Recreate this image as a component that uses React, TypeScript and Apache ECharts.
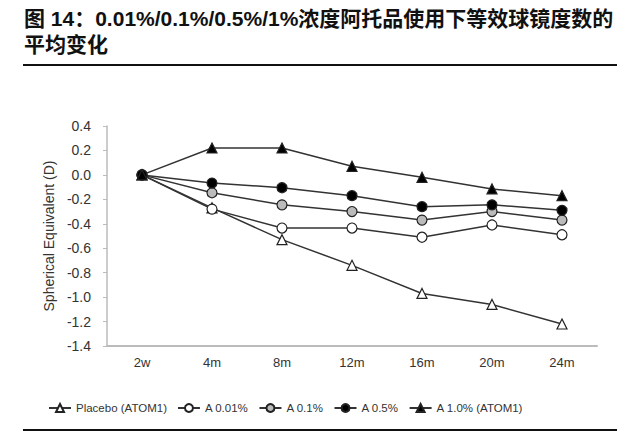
import React, { useEffect, useRef } from "react";
import * as echarts from "echarts";

const categories = ["2w", "4m", "8m", "12m", "16m", "20m", "24m"];
const placebo = [0, -0.27, -0.53, -0.74, -0.97, -1.06, -1.22];
const a001 = [0, -0.28, -0.435, -0.435, -0.51, -0.41, -0.49];
const a01 = [0, -0.146, -0.245, -0.3, -0.37, -0.3, -0.37];
const a05 = [0, -0.067, -0.105, -0.17, -0.26, -0.245, -0.29];
const a10 = [0, 0.22, 0.22, 0.07, -0.02, -0.115, -0.17];
const seriesNames = ["Placebo (ATOM1)", "A 0.01%", "A 0.1%", "A 0.5%", "A 1.0% (ATOM1)"];
const titleLines = ["图 14：0.01%/0.1%/0.5%/1%浓度阿托品使用下等效球镜度数的", "平均变化"];
const yAxisName = "Spherical Equivalent (D)";

const FONT = "'Liberation Sans', Arial, sans-serif";
const TITLE_FONT = "bold 21px 'Liberation Sans', 'Noto Sans CJK SC', sans-serif";

export default function App() {
  const ref = useRef<HTMLDivElement>(null);
  useEffect(() => {
    if (!ref.current) return;
    const chart = echarts.init(ref.current, null, { renderer: "svg" });
    const mk = (name: string, data: number[], symbol: string, fill: string, size: number) => ({
      name,
      type: "line",
      data,
      symbol,
      symbolSize: size,
      lineStyle: { color: "#333", width: 1.5 },
      itemStyle: { color: fill, borderColor: "#222", borderWidth: 1.2 },
      z: 3,
    });
    chart.setOption({
      animation: false,
      backgroundColor: "#fff",
      graphic: [
        {
          type: "text",
          left: 24,
          top: 8,
          style: { text: titleLines[0], font: TITLE_FONT, fill: "#111" },
        },
        {
          type: "text",
          left: 24,
          top: 34,
          style: { text: titleLines[1], font: TITLE_FONT, fill: "#111" },
        },
        {
          type: "line",
          shape: { x1: 23, y1: 65, x2: 617, y2: 65 },
          style: { stroke: "#111", lineWidth: 2 },
        },
        {
          type: "line",
          shape: { x1: 23, y1: 430, x2: 617, y2: 430 },
          style: { stroke: "#111", lineWidth: 2 },
        },
      ],
      grid: { left: 107, right: 44, top: 126, bottom: 86 },
      legend: {
        left: 43,
        top: 397,
        itemWidth: 22,
        itemHeight: 10,
        itemGap: 10,
        textStyle: { fontFamily: FONT, fontSize: 11.5, color: "#333" },
        data: seriesNames,
      },
      xAxis: {
        type: "category",
        data: categories,
        boundaryGap: true,
        axisLine: { onZero: false, lineStyle: { color: "#bbb", width: 2 } },
        axisTick: { show: false },
        axisLabel: { fontFamily: FONT, fontSize: 13, color: "#333", margin: 10 },
      },
      yAxis: {
        type: "value",
        min: -1.4,
        max: 0.4,
        interval: 0.2,
        name: yAxisName,
        nameLocation: "middle",
        nameGap: 47,
        nameTextStyle: { fontFamily: FONT, fontSize: 14, color: "#333" },
        axisLine: { show: true, lineStyle: { color: "#bbb", width: 1.5 } },
        axisTick: { show: true, length: 4, lineStyle: { color: "#bbb" } },
        splitLine: { show: false },
        axisLabel: {
          fontFamily: FONT,
          fontSize: 14,
          color: "#333",
          margin: 16,
          formatter: (v: number) => v.toFixed(1),
        },
      },
      series: [
        mk(seriesNames[0], placebo, "triangle", "#fff", 10),
        mk(seriesNames[1], a001, "circle", "#fff", 10),
        mk(seriesNames[2], a01, "circle", "#bbb", 10),
        mk(seriesNames[3], a05, "circle", "#000", 10),
        mk(seriesNames[4], a10, "triangle", "#000", 10),
      ],
    });
    return () => chart.dispose();
  }, []);
  return (
    <div
      ref={ref}
      style={{ width: 641, height: 432, position: "absolute", left: 0, top: 0 }}
    />
  );
}
